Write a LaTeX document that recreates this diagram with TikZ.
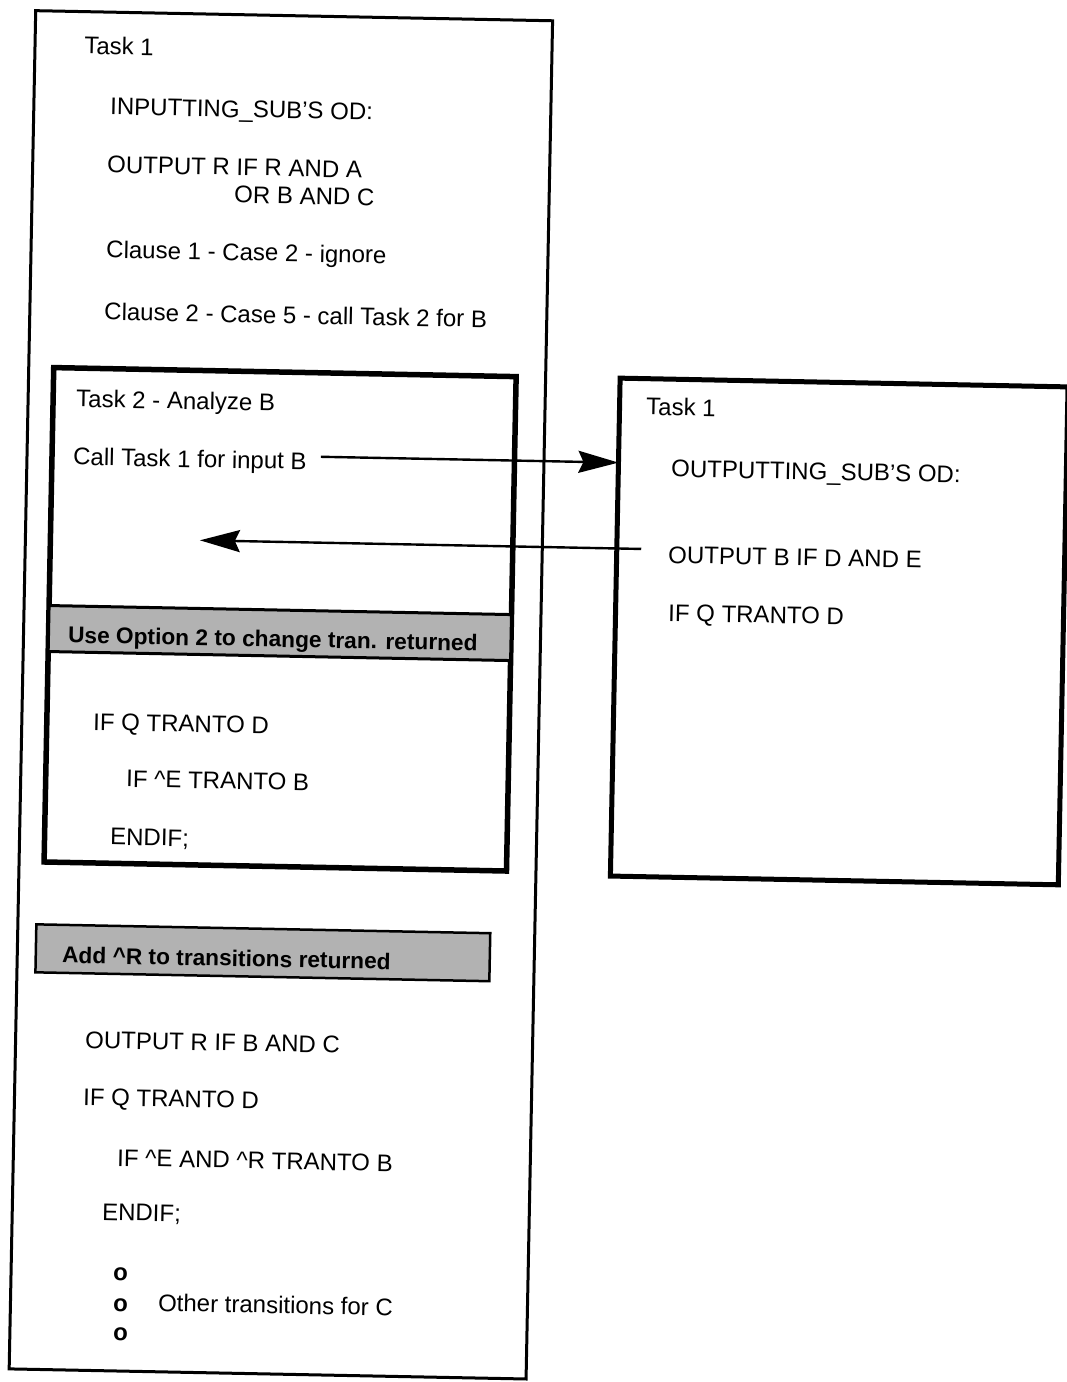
\documentclass[tikz,border=0pt]{standalone}
\usepackage{fontspec}
\setmainfont{Liberation Sans}
\usetikzlibrary{arrows.meta}
\begin{document}
\begin{tikzpicture}[x=1pt,y=-1pt,
  txt/.style={anchor=base west, inner sep=0pt, font=\fontsize{24}{28}\selectfont},
  bandtxt/.style={anchor=base west, inner sep=0pt, font=\fontsize{22.7}{28}\selectfont\bfseries},
  bullet/.style={anchor=base west, inner sep=0pt, font=\fontsize{24}{28}\selectfont\bfseries},
  frame/.style={draw, anchor=north west, inner sep=0pt, outer sep=0pt},
  band/.style={frame, fill=black!30},
  arr/.style={line width=2.4pt, -{Stealth[length=40pt,width=22pt,inset=5pt]}}]
\useasboundingbox (0,0) rectangle (1067,1382);
\begin{scope}[shift={(533,691)}, rotate=-1.12, shift={(-533,-691)}, transform shape]
  % frames
  \node[frame, line width=3pt, minimum width=517pt, minimum height=1358.5pt] (outer) at (22.5,20.5) {};
  \node[frame, line width=5.5pt, minimum width=462.5pt, minimum height=494.5pt] (task2) at (47.5,377) {};
  \node[band, line width=3pt, minimum width=462.5pt, minimum height=46pt] (band1) at (47.5,615) {};
  \node[frame, line width=5pt, minimum width=448pt, minimum height=498pt] (rbox) at (614,376.5) {};
  \node[band, line width=2.5pt, minimum width=454pt, minimum height=48pt] (band2) at (41,934) {};

  % outer task
  \node[txt] (t1) at (71.7,62.8) {Task 1};
  \node[txt] (insub) at (98.8,123.2) {INPUTTING\_SUB'S OD:};
  \node[txt] (outr) at (96.9,181.3) {OUTPUT R IF R AND A};
  \node[txt] (orbc) at (224.5,208.8) {OR B AND C};
  \node[txt] (cl1) at (97.6,266.3) {Clause 1 - Case 2 - ignore};
  \node[txt] (cl2) at (96.8,328.4) {Clause 2 - Case 5 - call Task 2 for B};

  % nested task
  \node[txt] (t2) at (70.5,415.9) {Task 2 - Analyze B};
  \node[txt] (call) at (68.6,474) {Call Task 1 for input B};
  \node[bandtxt] (opt) at (67,652) {Use Option 2 to change tran. returned};
  \node[txt] (ifq1) at (93.8,738.6) {IF Q TRANTO D};
  \node[txt] (ife1) at (127.9,794.9) {IF \textasciicircum{}E TRANTO B};
  \node[txt] (end1) at (113,853.2) {ENDIF;};

  % after the nested task
  \node[bandtxt] (addr) at (67.3,972) {Add \textasciicircum{}R to transitions returned};
  \node[txt] (outrb) at (92,1056.7) {OUTPUT R IF B AND C};
  \node[txt] (ifq2) at (91.1,1113.8) {IF Q TRANTO D};
  \node[txt] (ife2) at (126.3,1174.1) {IF \textasciicircum{}E AND \textasciicircum{}R TRANTO B};
  \node[txt] (end2) at (112.3,1228.4) {ENDIF;};
  \node[bullet] (o1) at (124.5,1288.2) {o};
  \node[bullet] (o2) at (125.1,1319.2) {o};
  \node[txt] (other) at (170,1318.3) {Other transitions for C};
  \node[bullet] (o3) at (125.7,1348.2) {o};

  % called task
  \node[txt] (rt1) at (640.6,412.8) {Task 1};
  \node[txt] (outsub) at (666.8,474.3) {OUTPUTTING\_SUB'S OD:};
  \node[txt] (outb) at (665.5,560.4) {OUTPUT B IF D AND E};
  \node[txt] (ifq3) at (666.6,618.4) {IF Q TRANTO D};

  % call and return
  \coordinate (callstart) at ([xshift=14pt,yshift=13pt]call.base east);
  \draw[arr] (callstart) -- (callstart -| rbox.west);
  \coordinate (retstart) at ([xshift=-27pt,yshift=13.5pt]outb.base west);
  \coordinate (back) at (197,546.7);
  \draw[arr] (retstart) -- (retstart -| back);
\end{scope}
\end{tikzpicture}
\end{document}
